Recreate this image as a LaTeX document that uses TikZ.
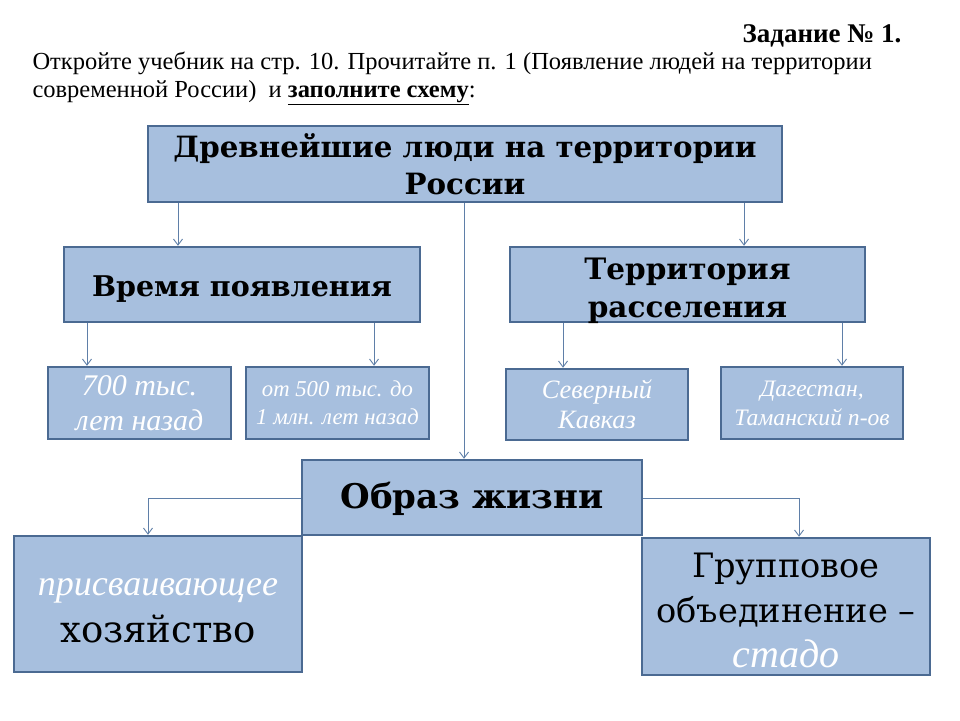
\documentclass[tikz,border=0pt]{standalone}
\usepackage{fontspec}
\setmainfont{Liberation Serif}
\newfontfamily\boxfont{DejaVu Serif}
\newfontfamily\itfont{Liberation Serif}
\usetikzlibrary{arrows.meta}
\definecolor{boxfill}{HTML}{A7BFDE}
\definecolor{boxline}{HTML}{4B6A92}
\definecolor{arrline}{HTML}{5F7FA8}
\tikzset{
  box/.style={draw=boxline, fill=boxfill, line width=2.5pt, align=center, inner sep=0pt},
  arr/.style={draw=arrline, line width=0.9pt, -{Straight Barb[length=6pt,width=9pt]}},
}
\begin{document}
\begin{tikzpicture}[x=1pt,y=-1pt]
\useasboundingbox (0,0) rectangle (960,720);
\fill[white] (0,0) rectangle (960,720);
% header texts
\node[anchor=east, font=\fontsize{27}{30}\selectfont\bfseries] (task) at (905,36) {Задание № 1.};
\node[anchor=west, font=\fontsize{24.5}{28}\selectfont, align=left] (intro) at (29,78)
  {Откройте учебник на стр. 10. Прочитайте п. 1 (Появление людей на территории\\
   современной России) \ и \textbf{\underline{заполните схему}}:};
% boxes
\node[box, minimum width=634pt, minimum height=76pt, font=\boxfont\fontsize{29.3}{37}\selectfont\bfseries] (top) at (465,164)
  {Древнейшие люди на территории\\России};
\node[box, minimum width=356pt, minimum height=75pt, font=\boxfont\fontsize{28.5}{32}\selectfont\bfseries] (vrem) at (242,284.5)
  {\rule{0pt}{30pt}Время появления};
\node[box, minimum width=355pt, minimum height=75pt, font=\boxfont\fontsize{29.5}{38}\selectfont\bfseries] (terr) at (687.5,284.5)
  {\rule{0pt}{28pt}Территория\\\raisebox{0pt}[\height][0pt]{расселения}};
\node[box, minimum width=183pt, minimum height=72pt, text=white, font=\itfont\fontsize{30}{35}\selectfont\itshape] (a700) at (139.5,403)
  {700 тыс.\\лет назад};
\node[box, minimum width=183pt, minimum height=72pt, text=white, font=\itfont\fontsize{22.7}{28}\selectfont\itshape] (a500) at (337.5,403)
  {от 500 тыс. до\\1 млн. лет назад};
\node[box, minimum width=182pt, minimum height=71pt, text=white, font=\itfont\fontsize{26.5}{30}\selectfont\itshape] (sev) at (597,404.5)
  {Северный\\Кавказ};
\node[box, minimum width=182pt, minimum height=72pt, text=white, font=\itfont\fontsize{23.6}{29}\selectfont\itshape] (dag) at (812,403)
  {Дагестан,\\Таманский п-ов};
\node[box, minimum width=340pt, minimum height=75pt, font=\boxfont\fontsize{34}{40}\selectfont\bfseries] (obraz) at (472,497.5)
  {\rule{0pt}{30pt}Образ жизни};
\node[box, minimum width=288pt, minimum height=136pt, font=\boxfont\fontsize{37}{47}\selectfont] (pris) at (158,604)
  {{\itfont\itshape\color{white}\fontsize{36}{47}\selectfont\rule{0pt}{30pt}присваивающее}\\хозяйство};
\node[box, minimum width=288pt, minimum height=137pt, font=\boxfont\fontsize{33.6}{45}\selectfont] (grup) at (786,606.5)
  {\rule{0pt}{33pt}Групповое\\объединение –\\{\itfont\itshape\color{white}\fontsize{40}{45}\selectfont стадо}};
% guide coordinates
\coordinate (g1) at (178,0);
\coordinate (g2) at (744,0);
\coordinate (g3) at (464,0);
\coordinate (g4) at (87,0);
\coordinate (g5) at (374,0);
\coordinate (g6) at (563,0);
\coordinate (g7) at (842,0);
\coordinate (g8) at (0,498);
\coordinate (g9) at (148,0);
\coordinate (g10) at (799,0);
% connectors
\draw[arr] (top.south -| g1) -- (vrem.north -| g1);
\draw[arr] (top.south -| g2) -- (terr.north -| g2);
\draw[arr] (top.south -| g3) -- (obraz.north -| g3);
\draw[arr] (vrem.south -| g4) -- (a700.north -| g4);
\draw[arr] (vrem.south -| g5) -- (a500.north -| g5);
\draw[arr] (terr.south -| g6) -- (sev.north -| g6);
\draw[arr] (terr.south -| g7) -- (dag.north -| g7);
\draw[arr] (obraz.west |- g8) -| (pris.north -| g9);
\draw[arr] (obraz.east |- g8) -| (grup.north -| g10);
\end{tikzpicture}
\end{document}
